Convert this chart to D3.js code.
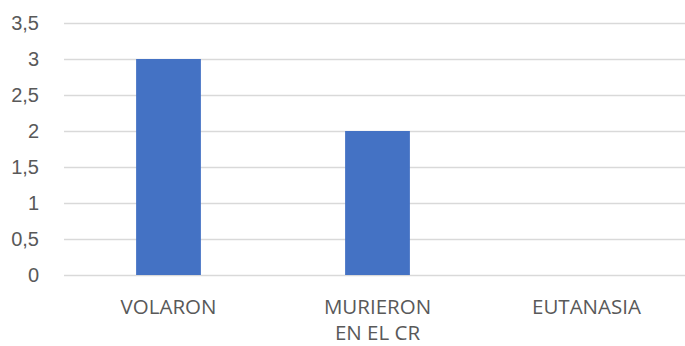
<!DOCTYPE html>
<html>
<head>
<meta charset="utf-8">
<script src="https://cdn.jsdelivr.net/npm/d3@7"></script>
<style>
  body { margin: 0; background: #fff; }
  svg { display: block; }
</style>
</head>
<body>
<div id="chart"></div>
<script>
// données
const categories = [["VOLARON"], ["MURIERON", "EN EL CR"], ["EUTANASIA"]];
const values = [3, 2, 0];
const yTicks = [0, 0.5, 1, 1.5, 2, 2.5, 3, 3.5];

const fullWidth = 685, fullHeight = 346;
const plot = { left: 64, right: 691, top: 23, bottom: 275 };

const svg = d3.select("#chart")
  .append("svg")
  .attr("width", fullWidth)
  .attr("height", fullHeight)
  .style("font-family", "'Open Sans', sans-serif");

const x = d3.scaleBand()
  .domain(d3.range(categories.length))
  .range([plot.left, plot.right])
  .paddingInner(0.69)
  .paddingOuter(0.345);

const y = d3.scaleLinear()
  .domain([0, 3.5])
  .range([plot.bottom, plot.top]);

// lignes de grille + étiquettes
const yAxis = svg.append("g")
  .attr("transform", "translate(" + plot.left + ",0)")
  .call(d3.axisLeft(y)
    .tickValues(yTicks)
    .tickSize(-(plot.right - plot.left))
    .tickPadding(25)
    .tickFormat(d => String(d).replace(".", ",")));

yAxis.select(".domain").remove();
yAxis.selectAll(".tick line")
  .attr("stroke", "#d9d9d9")
  .attr("stroke-width", 1.5);
yAxis.selectAll(".tick text")
  .attr("fill", "#595959")
  .style("font-size", "20px");

// barres
svg.selectAll("rect.bar")
  .data(values)
  .enter().append("rect")
  .attr("class", "bar")
  .attr("x", (d, i) => x(i))
  .attr("width", x.bandwidth())
  .attr("y", d => y(d))
  .attr("height", d => y(0) - y(d))
  .attr("fill", "#4472c4");

// étiquettes des catégories
const labels = svg.append("g")
  .selectAll("text")
  .data(categories)
  .enter().append("text")
  .attr("x", (d, i) => x(i) + x.bandwidth() / 2)
  .attr("y", 314)
  .attr("text-anchor", "middle")
  .attr("fill", "#595959")
  .style("font-size", "20.5px");

labels.selectAll("tspan")
  .data(d => d)
  .enter().append("tspan")
  .attr("x", function() { return d3.select(this.parentNode).attr("x"); })
  .attr("dy", (d, i) => i === 0 ? 0 : 25.5)
  .text(d => d);
</script>
</body>
</html>
